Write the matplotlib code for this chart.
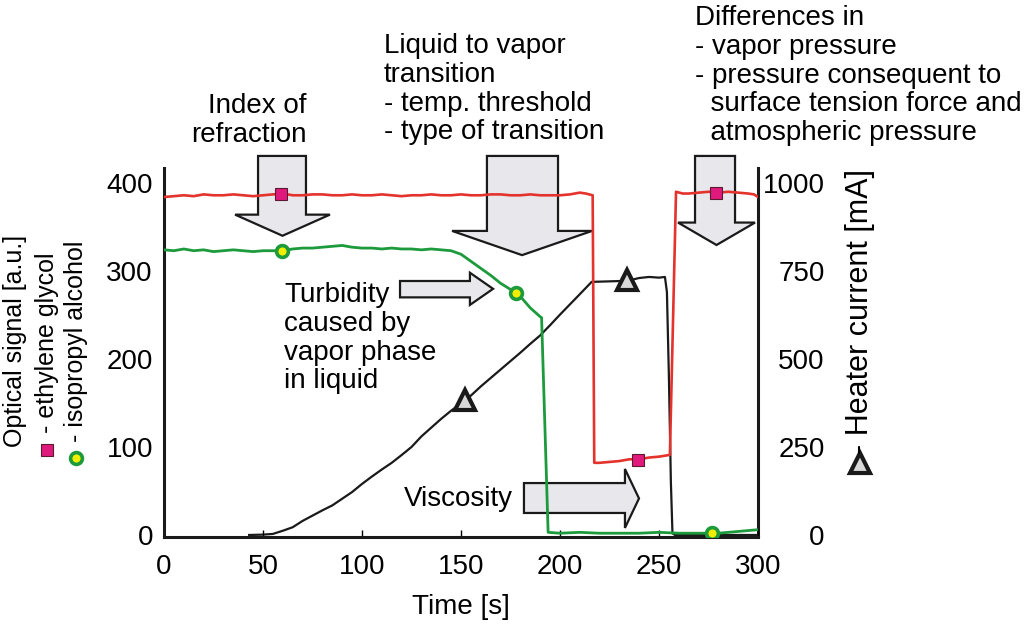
import matplotlib.pyplot as plt
from matplotlib.patches import Polygon
from matplotlib.lines import Line2D

plt.rcParams['font.family'] = ['Liberation Sans', 'DejaVu Sans']

# ---- values ----
# ethylene glycol optical signal [a.u.]
eg_time = [0, 5, 10, 15, 20, 25, 30, 35, 40, 45, 50, 55, 60, 65, 70, 75, 80, 85, 90,
           95, 100, 105, 110, 115, 120, 125, 130, 135, 140, 145, 150, 155, 160, 165,
           170, 175, 180, 185, 190, 195, 200, 205, 210, 213, 216.5, 217.3, 220, 225,
           230, 235, 240, 245, 250, 255.5, 258.6, 262, 265, 270, 275, 280, 285, 290,
           295, 298, 300]
eg_signal = [384, 385, 386, 385, 387, 386, 386, 387, 386, 385, 386, 387, 388, 386, 386,
             387, 387, 386, 386, 387, 386, 386, 387, 386, 385, 386, 386, 387, 386, 386,
             387, 386, 386, 387, 387, 386, 386, 387, 386, 386, 386, 387, 389, 388, 386,
             82, 82, 83, 84, 86, 86, 88, 89, 91, 390, 388, 388, 389, 390, 389, 390, 389,
             388, 387, 384]

# isopropyl alcohol optical signal [a.u.]
ipa_time = [0, 5, 10, 15, 20, 25, 30, 35, 40, 45, 50, 55, 60, 65, 70, 75, 80, 85, 90,
            95, 100, 105, 110, 115, 120, 125, 130, 135, 140, 145, 150, 155, 160, 165,
            170, 175, 178, 180, 185, 190, 190.7, 194, 200, 210, 220, 230, 240, 250, 260,
            270, 280, 290, 295, 300]
ipa_signal = [324, 323, 325, 323, 324, 322, 323, 324, 323, 322, 323, 323, 323, 325, 326,
              326, 327, 328, 329, 327, 326, 326, 325, 326, 325, 325, 324, 325, 324, 323,
              319, 311, 303, 295, 286, 279, 275, 271, 258, 248, 247, 3, 2, 3, 2, 2, 2,
              3, 2, 2, 2, 4, 5, 6]

# heater current [mA]
heater_time = [43, 50, 55, 60, 65, 70, 75, 80, 85, 90, 95, 100, 105, 110, 115, 120, 125,
               130, 135, 140, 145, 150, 155, 160, 165, 170, 175, 180, 185, 190, 195, 200,
               205, 210, 216, 234, 240, 245, 250, 253, 254, 255, 256, 256.8, 258, 300]
heater_current = [0, 1, 3, 12, 22, 40, 55, 70, 84, 103, 122, 145, 166, 186, 205, 227,
                  250, 280, 305, 330, 353, 374, 396, 422, 446, 470, 494, 518, 543, 567,
                  596, 626, 655, 684, 719, 722, 730, 733, 731, 733, 690, 450, 150, 5, 0, 0]

# symbols placed on the curves
eg_mark_time = [59, 239.5, 279]
eg_mark_signal = [388, 85, 389]
ipa_mark_time = [59.6, 177.8, 277]
ipa_mark_signal = [323, 275, 2]
heater_mark_time = [152, 234]
heater_mark_current = [383, 725]

x_ticks = [0, 50, 100, 150, 200, 250, 300]
left_ticks = [0, 100, 200, 300, 400]
right_ticks = [0, 250, 500, 750, 1000]

RED = '#e4322d'
GREEN = '#1c9a3c'
BLACK = '#1a1a1a'
ARROW_FACE = '#e8e8ec'
FS = 20
LS = 1.14


def px(x, y):
    # pixel position (from top-left) -> figure fraction
    return x / 1024, 1 - y / 625


def down_arrow(ax, x0, x1, top, hx0, hx1, base, tip):
    xc = (hx0 + hx1) / 2
    pts = [(x0, top), (x1, top), (x1, base), (hx1, base), (xc, tip),
           (hx0, base), (x0, base)]
    ax.add_patch(Polygon(pts, closed=True, facecolor=ARROW_FACE, edgecolor=BLACK,
                         lw=1.6, joinstyle='miter', clip_on=False, zorder=1))


def right_arrow(ax, x0, xh, xt, y0, y1, hy0, hy1):
    yc = (hy0 + hy1) / 2
    pts = [(x0, y0), (xh, y0), (xh, hy0), (xt, yc), (xh, hy1), (xh, y1), (x0, y1)]
    ax.add_patch(Polygon(pts, closed=True, facecolor=ARROW_FACE, edgecolor=BLACK,
                         lw=1.6, joinstyle='miter', clip_on=False, zorder=1))


fig = plt.figure(figsize=(10.24, 6.25), dpi=100)
ax = fig.add_axes([164 / 1024, 1 - 537 / 625, (758 - 164) / 1024, (537 - 168) / 625])
ax2 = ax.twinx()
ax.set_zorder(ax2.get_zorder() + 1)
ax.patch.set_visible(False)

ylo, yhi = -2.3, 417
ax.set_xlim(0, 300)
ax.set_ylim(ylo, yhi)
ax2.set_ylim(ylo * 2.5, yhi * 2.5)

# heater current on the right axis
ax2.plot(heater_time, heater_current, color=BLACK, lw=1.6, zorder=2)
ax2.plot(heater_mark_time, heater_mark_current, ls='none', marker='^', ms=15,
         mfc='#d9d9d9', mec=BLACK, mew=3.0, zorder=3)

# optical signals on the left axis
ax.plot(eg_time, eg_signal, color=RED, lw=1.9, zorder=3)
ax.plot(ipa_time, ipa_signal, color=GREEN, lw=2.0, zorder=3)
ax.plot(eg_mark_time, eg_mark_signal, ls='none', marker='s', ms=8.5,
        mfc='#e0197d', mec='#5a1a30', mew=0.8, zorder=4)
ax.plot(ipa_mark_time, ipa_mark_signal, ls='none', marker='o', ms=8.5,
        mfc='#f2ee00', mec=GREEN, mew=2.6, zorder=4)

# block arrows
down_arrow(ax, 47.5, 71.7, 430.7, 35.9, 83.8, 364, 340)
down_arrow(ax, 163.1, 199, 430.7, 145.5, 216.2, 345.5, 318)
down_arrow(ax, 268.2, 288.4, 430.7, 259.6, 298.5, 355, 329.5)
right_arrow(ax, 119.2, 154.5, 166.2, 270, 288.6, 261.4, 298)
right_arrow(ax, 181.8, 232.8, 239.9, 25, 59, 8, 75)

# axes styling
for a in (ax, ax2):
    a.spines['top'].set_visible(False)
ax.spines['right'].set_visible(False)
ax2.spines['left'].set_visible(False)
ax2.spines['bottom'].set_visible(False)
ax.spines['left'].set_linewidth(2.2)
ax.spines['bottom'].set_linewidth(2.2)
ax2.spines['right'].set_linewidth(2.2)
for s in ('left', 'bottom'):
    ax.spines[s].set_color(BLACK)
ax2.spines['right'].set_color(BLACK)

ax.set_xticks(x_ticks)
ax.set_yticks(left_ticks)
ax2.set_yticks(right_ticks)
ax.tick_params(axis='x', direction='in', length=5, width=1.0, labelsize=FS, pad=12)
ax.tick_params(axis='y', length=0, labelsize=FS, pad=8)
ax2.tick_params(axis='y', length=0, labelsize=FS, pad=48)
for lbl in ax2.get_yticklabels():
    lbl.set_horizontalalignment('right')

ax.set_xlabel('Time [s]', fontsize=FS, labelpad=10)

# left axis title with series symbols
fig.text(*px(15, 341), 'Optical signal [a.u.]', rotation=90, ha='center', va='center',
         fontsize=18)
fig.text(*px(47, 343), '- ethylene glycol', rotation=90, ha='center', va='center',
         fontsize=18)
fig.text(*px(76, 341), '- isopropyl alcohol', rotation=90, ha='center', va='center',
         fontsize=18)
fig.add_artist(Line2D([px(47, 450)[0]], [px(47, 450)[1]], transform=fig.transFigure,
                      ls='none', marker='s', ms=8.5, mfc='#e0197d', mec='#5a1a30', mew=0.8))
fig.add_artist(Line2D([px(76, 458)[0]], [px(76, 458)[1]], transform=fig.transFigure,
                      ls='none', marker='o', ms=8.5, mfc='#f2ee00', mec=GREEN, mew=2.6))

# right axis title with symbol
fig.text(*px(860, 312), '- Heater current [mA]', rotation=90, ha='center', va='center',
         fontsize=22)
fig.add_artist(Line2D([px(860, 463)[0]], [px(860, 463)[1]], transform=fig.transFigure,
                      ls='none', marker='^', ms=15, mfc='#d9d9d9', mec=BLACK, mew=3.0))

# annotations
fig.text(*px(307, 93), 'Index of\nrefraction', ha='right', va='top', ma='right',
         fontsize=FS, linespacing=LS)
fig.text(*px(384, 33), 'Liquid to vapor\ntransition\n- temp. threshold\n- type of transition',
         ha='left', va='top', fontsize=FS, linespacing=LS)
fig.text(*px(695, 5), 'Differences in\n- vapor pressure\n- pressure consequent to\n'
         '  surface tension force and\n  atmospheric pressure',
         ha='left', va='top', fontsize=FS, linespacing=LS)
fig.text(*px(284, 282), 'Turbidity\ncaused by\nvapor phase\nin liquid',
         ha='left', va='top', fontsize=FS, linespacing=LS)
fig.text(*px(404, 486), 'Viscosity', ha='left', va='top', fontsize=FS)

fig.savefig('out.png', dpi=100)
